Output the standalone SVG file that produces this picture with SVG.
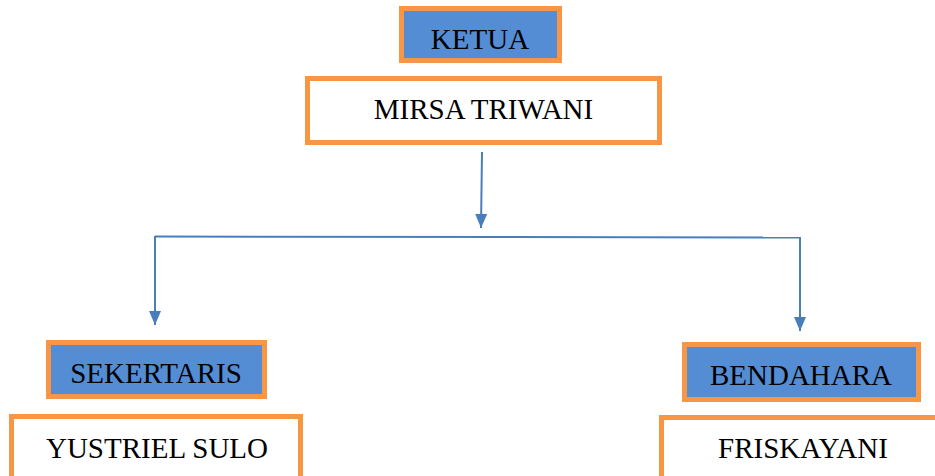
<svg xmlns="http://www.w3.org/2000/svg" width="935" height="476" viewBox="0 0 935 476">
<style>
.title{fill:#548DD4;stroke:#F79646;stroke-width:5}
.name{fill:#FFFFFF;stroke:#F79646;stroke-width:5}
text{font-family:"Liberation Serif","Times New Roman",serif;font-size:29px;fill:#000;text-anchor:middle}
.conn{stroke:#4A7EBB;stroke-width:2;fill:none}
</style>
<defs>
<marker id="arr" viewBox="0 0 14 12" refX="14" refY="6" markerWidth="14" markerHeight="12" markerUnits="userSpaceOnUse" orient="auto">
<path d="M0,0 L14,6 L0,12 Z" fill="#4A7EBB"/>
</marker>
</defs>
<rect width="935" height="476" fill="#fff"/>
<g id="ketua"><rect class="title" x="401.5" y="8.5" width="158" height="52"/><text x="480" y="49">KETUA</text></g>
<g id="mirsa"><rect class="name" x="307.5" y="78.5" width="352" height="64"/><text x="483.5" y="119">MIRSA TRIWANI</text></g>
<g id="sekertaris"><rect class="title" x="48.5" y="342.5" width="216" height="54"/><text x="156" y="383">SEKERTARIS</text></g>
<g id="yustriel"><rect class="name" x="11.5" y="416.5" width="289" height="80"/><text x="157" y="458">YUSTRIEL SULO</text></g>
<g id="bendahara"><rect class="title" x="684.5" y="344.5" width="234" height="55"/><text x="801" y="385">BENDAHARA</text></g>
<g id="friskayani"><rect class="name" x="661.5" y="417.5" width="300" height="80"/><text x="803" y="458">FRISKAYANI</text></g>
<g id="connectors">
<path class="conn" d="M482,152 L481,228" marker-end="url(#arr)"/>
<path class="conn" d="M155,236.5 L800,237.5"/>
<path class="conn" d="M155,236 L155,325" marker-end="url(#arr)"/>
<path class="conn" d="M800,237 L800,331" marker-end="url(#arr)"/>
</g>
</svg>
